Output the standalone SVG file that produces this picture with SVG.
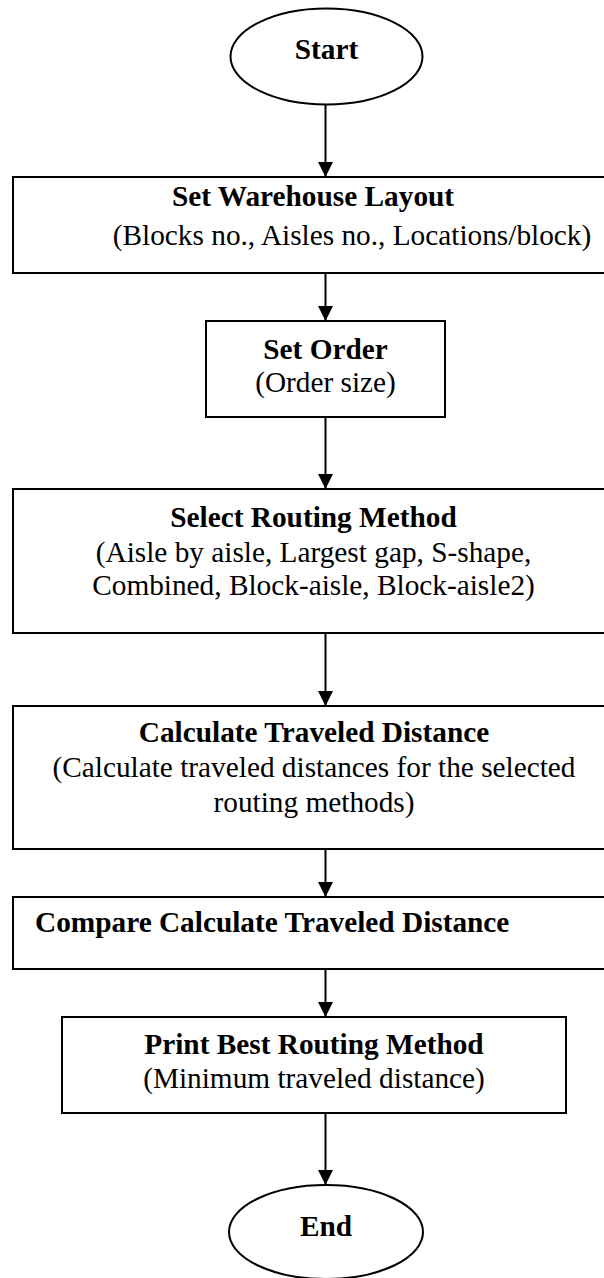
<svg xmlns="http://www.w3.org/2000/svg" width="604" height="1278" viewBox="0 0 604 1278">
<style>
.box{fill:#fff;stroke:#000;stroke-width:2}
.t{font-family:"Liberation Serif","Times New Roman",serif;font-size:29.3px;fill:#000}
.b{font-weight:bold}
.c{text-anchor:middle}
.ln{stroke:#000;stroke-width:2;fill:none;marker-end:url(#ah)}
</style>
<defs>
<marker id="ah" markerUnits="userSpaceOnUse" markerWidth="16" markerHeight="16" refX="15" refY="7.5" orient="auto">
<path d="M0,0 L15,7.5 L0,15 Z" fill="#000"/>
</marker>
</defs>
<rect width="604" height="1278" fill="#fff"/>
<g id="connectors">
<line class="ln" x1="325.5" y1="105" x2="325.5" y2="177"/>
<line class="ln" x1="325.5" y1="273" x2="325.5" y2="321"/>
<line class="ln" x1="325.5" y1="417" x2="325.5" y2="489"/>
<line class="ln" x1="325.5" y1="633" x2="325.5" y2="706"/>
<line class="ln" x1="325.5" y1="849" x2="325.5" y2="897"/>
<line class="ln" x1="325.5" y1="969" x2="325.5" y2="1017"/>
<line class="ln" x1="325.5" y1="1113" x2="325.5" y2="1185"/>
</g>
<g id="start">
<ellipse class="box" cx="326.5" cy="56.5" rx="96" ry="48"/>
<text class="t b c" x="326.5" y="59">Start</text>
</g>
<g id="layout">
<rect class="box" x="13" y="177" width="600" height="96"/>
<text class="t b c" x="313" y="206">Set Warehouse Layout</text>
<text class="t c" x="352" y="245">(Blocks no., Aisles no., Locations/block)</text>
</g>
<g id="order">
<rect class="box" x="206" y="321" width="239" height="96"/>
<text class="t b c" x="325.5" y="359">Set Order</text>
<text class="t c" x="325.5" y="392">(Order size)</text>
</g>
<g id="routing">
<rect class="box" x="13" y="489" width="600" height="144"/>
<text class="t b c" x="313.5" y="527">Select Routing Method</text>
<text class="t c" x="313.5" y="562">(Aisle by aisle, Largest gap, S-shape,</text>
<text class="t c" x="313.5" y="595">Combined, Block-aisle, Block-aisle2)</text>
</g>
<g id="calculate">
<rect class="box" x="13" y="706" width="600" height="143"/>
<text class="t b c" x="314" y="742">Calculate Traveled Distance</text>
<text class="t c" x="314" y="777">(Calculate traveled distances for the selected</text>
<text class="t c" x="314" y="812">routing methods)</text>
</g>
<g id="compare">
<rect class="box" x="13" y="897" width="600" height="72"/>
<text class="t b" x="35" y="932">Compare Calculate Traveled Distance</text>
</g>
<g id="print">
<rect class="box" x="62" y="1017" width="504" height="96"/>
<text class="t b c" x="314" y="1054">Print Best Routing Method</text>
<text class="t c" x="314" y="1088">(Minimum traveled distance)</text>
</g>
<g id="end">
<ellipse class="box" cx="326" cy="1232" rx="97" ry="47"/>
<text class="t b c" x="326" y="1236">End</text>
</g>
</svg>
